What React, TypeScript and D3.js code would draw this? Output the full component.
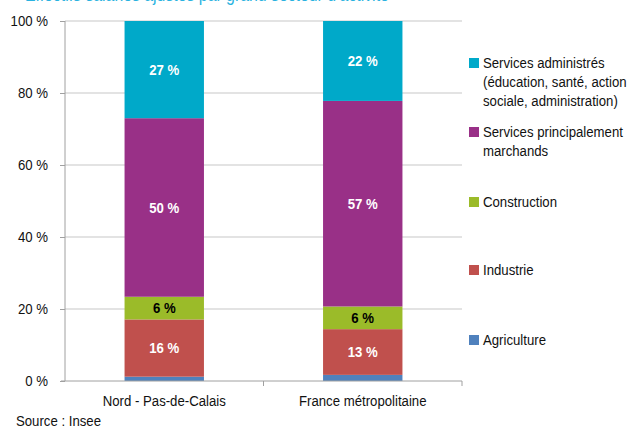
import { useEffect, useRef } from 'react';
import * as d3 from 'd3';

const categories = ['Nord - Pas-de-Calais', 'France métropolitaine'];
const sectors = [
  'Agriculture',
  'Industrie',
  'Construction',
  'Services principalement marchands',
  'Services administrés',
];
const agriculture = [1.2, 1.7];
const industrie = [15.9, 12.7];
const construction = [6.3, 6.3];
const servicesMarchands = [49.6, 57.1];
const servicesAdministres = [27.0, 22.2];
const valueLabels = [
  ['', '16 %', '6 %', '50 %', '27 %'],
  ['', '13 %', '6 %', '57 %', '22 %'],
];
const yTicks = [0, 20, 40, 60, 80, 100];
const legendLines = [
  ['Services administrés', '(éducation, santé, action', 'sociale, administration)'],
  ['Services principalement', 'marchands'],
  ['Construction'],
  ['Industrie'],
  ['Agriculture'],
];

const colors = ['#4f81bd', '#c0504d', '#9bbb29', '#993087', '#00a9c9'];
const labelColors = ['#fff', '#fff', '#000', '#fff', '#fff'];
const FONT = '"Liberation Sans", Arial, sans-serif';
const SQUEEZE = 0.88;

// fake an Arial Narrow look by squeezing text horizontally
function narrow(sel: d3.Selection<any, any, any, any>, s = SQUEEZE) {
  sel.each(function () {
    const t = d3.select(this);
    const xv = t.attr('x');
    if (xv != null) t.attr('x', +xv / s);
    t.attr('transform', `scale(${s},1)`);
    t.selectAll('tspan').each(function () {
      const ts = d3.select(this);
      if (ts.attr('x') != null) ts.attr('x', +ts.attr('x') / s);
    });
  });
}

export default function App() {
  const svgRef = useRef<SVGSVGElement>(null);

  useEffect(() => {
    if (!svgRef.current) return;
    const width = 640;
    const height = 426;
    const margin = { top: 21, left: 65, right: 178, bottom: 45 };

    const svg = d3.select(svgRef.current);
    svg.selectAll('*').remove();
    svg.attr('width', width).attr('height', height);

    const rows = categories.map((c, i) => ({
      cat: c,
      [sectors[0]]: agriculture[i],
      [sectors[1]]: industrie[i],
      [sectors[2]]: construction[i],
      [sectors[3]]: servicesMarchands[i],
      [sectors[4]]: servicesAdministres[i],
    }));
    const stack = d3.stack<any>().keys(sectors)(rows);

    const x = d3
      .scaleBand()
      .domain(categories)
      .range([margin.left, width - margin.right])
      .padding(0);
    const y = d3
      .scaleLinear()
      .domain([0, 100])
      .range([height - margin.bottom, margin.top]);
    const barW = x.bandwidth() * 0.4;

    // title (cut off at the top of the image)
    svg
      .append('text')
      .attr('x', 25)
      .attr('y', 1)
      .attr('fill', '#29b2e0')
      .style('font-family', FONT)
      .style('font-size', '18px')
      .text('Effectifs salariés ajustés par grand secteur d\u2019activité')
      .call(narrow);

    // gridlines
    svg
      .append('g')
      .selectAll('line')
      .data(yTicks.filter((t) => t > 0))
      .join('line')
      .attr('x1', margin.left)
      .attr('x2', width - margin.right)
      .attr('y1', (d) => y(d))
      .attr('y2', (d) => y(d))
      .attr('stroke', '#c8c8c8')
      .attr('stroke-width', 1.2);

    // bars
    stack.forEach((layer, li) => {
      svg
        .append('g')
        .selectAll('rect')
        .data(layer)
        .join('rect')
        .attr('x', (d) => x(d.data.cat)! + (x.bandwidth() - barW) / 2)
        .attr('width', barW)
        .attr('y', (d) => y(d[1]))
        .attr('height', (d) => y(d[0]) - y(d[1]))
        .attr('fill', colors[li]);

      svg
        .append('g')
        .selectAll('text')
        .data(layer)
        .join('text')
        .attr('x', (d) => x(d.data.cat)! + x.bandwidth() / 2)
        .attr('y', (d) => (y(d[0]) + y(d[1])) / 2)
        .attr('dy', '0.36em')
        .attr('text-anchor', 'middle')
        .attr('fill', labelColors[li])
        .style('font-family', FONT)
        .style('font-size', '15px')
        .style('font-weight', 'bold')
        .text((_, i) => valueLabels[i][li])
        .call(narrow);
    });

    // y axis
    const yAxis = svg
      .append('g')
      .attr('transform', `translate(${margin.left},0)`)
      .call(
        d3
          .axisLeft(y)
          .tickValues(yTicks)
          .tickSize(5)
          .tickPadding(12)
          .tickFormat((d) => `${d} %`)
      );
    yAxis.select('.domain').attr('stroke', '#a0a0a0').attr('d', `M0,${y(0)}V${y(100)}`);
    yAxis.selectAll('.tick line').attr('stroke', '#a0a0a0');
    yAxis
      .selectAll('text')
      .attr('fill', '#111')
      .style('font-family', FONT)
      .style('font-size', '15px')
      .call(narrow);

    // x axis
    const xAxis = svg
      .append('g')
      .attr('transform', `translate(0,${y(0)})`)
      .call(d3.axisBottom(x).tickSize(0).tickPadding(14));
    xAxis.select('.domain').attr('stroke', '#a0a0a0').attr('d', `M${margin.left - 4},0H${width - margin.right}`);
    xAxis
      .selectAll('text')
      .attr('fill', '#111')
      .style('font-family', FONT)
      .style('font-size', '15px')
      .call(narrow);
    // category separators
    svg
      .append('g')
      .selectAll('line')
      .data(categories.slice(1).concat(['__end']))
      .join('line')
      .attr('x1', (d) => (d === '__end' ? width - margin.right : x(d)!))
      .attr('x2', (d) => (d === '__end' ? width - margin.right : x(d)!))
      .attr('y1', y(0))
      .attr('y2', y(0) + 5)
      .attr('stroke', '#a0a0a0');

    // legend
    const legendX = 469;
    const legendY = [63, 132, 202, 270, 340];
    const order = [4, 3, 2, 1, 0];
    order.forEach((si, k) => {
      const g = svg.append('g');
      g.append('rect')
        .attr('x', legendX)
        .attr('y', legendY[k] - 5)
        .attr('width', 10)
        .attr('height', 10)
        .attr('fill', colors[si]);
      g.append('text')
        .attr('x', legendX + 14)
        .attr('y', legendY[k])
        .attr('fill', '#111')
        .style('font-family', FONT)
        .style('font-size', '15px')
        .selectAll('tspan')
        .data(legendLines[k])
        .join('tspan')
        .attr('x', legendX + 14)
        .attr('dy', (_, i) => (i === 0 ? '0.36em' : '19px'))
        .text((d) => d);
      g.select('text').call(narrow);
    });

    svg
      .append('text')
      .attr('x', 16)
      .attr('y', 426)
      .attr('fill', '#111')
      .style('font-family', FONT)
      .style('font-size', '15px')
      .text('Source : Insee')
      .call(narrow);
  }, []);

  return (
    <svg
      ref={svgRef}
      style={{ position: 'absolute', left: 0, top: 0, display: 'block', background: '#fff' }}
    />
  );
}
